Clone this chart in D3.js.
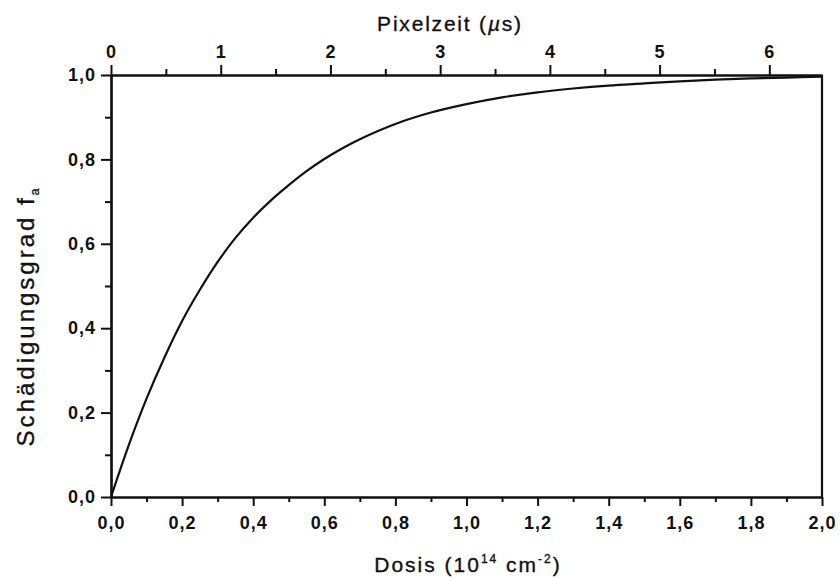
<!DOCTYPE html>
<html>
<head>
<meta charset="utf-8">
<script src="https://cdn.jsdelivr.net/npm/d3@7"></script>
<style>
body { margin: 0; background: #fff; }
svg { display: block; }
.tick text { font-family: "Liberation Sans", Arial, sans-serif; font-weight: bold; font-size: 18px; letter-spacing: 1px; fill: #111; }
.title { font-family: "Liberation Sans", Arial, sans-serif; fill: #111; stroke: #111; stroke-width: 0.35px; }
</style>
</head>
<body>
<svg id="chart"></svg>
<script>
// dose in 10^14 cm^-2
var dose = [0.00, 0.05, 0.10, 0.15, 0.20, 0.25, 0.30, 0.35, 0.40, 0.45, 0.50,
            0.55, 0.60, 0.65, 0.70, 0.80, 0.90, 1.00, 1.10, 1.20, 1.30, 1.40, 1.50,
            1.60, 1.70, 1.80, 1.90, 2.00]
// damage degree f_a
var fa = [0.000, 0.123, 0.233, 0.330, 0.417, 0.491, 0.557, 0.614, 0.662, 0.703, 0.739,
          0.772, 0.801, 0.826, 0.848, 0.884, 0.911, 0.931, 0.947, 0.959, 0.968, 0.975, 0.980,
          0.985, 0.989, 0.992, 0.994, 0.996]

var doseTicks = [0, 0.2, 0.4, 0.6, 0.8, 1.0, 1.2, 1.4, 1.6, 1.8, 2.0]
var doseMinor = [0.1, 0.3, 0.5, 0.7, 0.9, 1.1, 1.3, 1.5, 1.7, 1.9]
var faTicks = [0, 0.2, 0.4, 0.6, 0.8, 1.0]
var faMinor = [0.1, 0.3, 0.5, 0.7, 0.9]
var timeTicks = [0, 1, 2, 3, 4, 5, 6]
var timeMinor = [0.5, 1.5, 2.5, 3.5, 4.5, 5.5]
var timeMax = 6.48   // pixel time at dose 2.0

var width = 840
var height = 581
var margins = {top: 75, bottom: 84, left: 111, right: 18}

var svg = d3.select("#chart")
    .attr("width", width)
    .attr("height", height)

var xScale = d3.scaleLinear()
    .domain([0, 2])
    .range([margins.left, width - margins.right])

var tScale = d3.scaleLinear()
    .domain([0, timeMax])
    .range([margins.left, width - margins.right])

var yScale = d3.scaleLinear()
    .domain([0, 1])
    .range([height - margins.bottom, margins.top])

var comma = function(d) { return d3.format(".1f")(d).replace(".", ",") }

var styleAxis = function(g)
{
    g.select(".domain").attr("stroke", "#111").attr("stroke-width", 2.2)
    g.selectAll(".tick line").attr("stroke", "#111").attr("stroke-width", 2)
}

var bottom = height - margins.bottom

// bottom axis
svg.append("g")
    .attr("transform", "translate(0," + bottom + ")")
    .call(d3.axisBottom(xScale).tickValues(doseMinor).tickSize(5).tickSizeOuter(0).tickFormat(""))
    .call(styleAxis)
svg.append("g")
    .attr("transform", "translate(0," + bottom + ")")
    .call(d3.axisBottom(xScale).tickValues(doseTicks).tickSize(9).tickSizeOuter(0).tickPadding(6).tickFormat(comma))
    .call(styleAxis)
    .call(function(g) { g.selectAll(".tick text").attr("dy", "0.95em") })

// left axis
svg.append("g")
    .attr("transform", "translate(" + margins.left + ",0)")
    .call(d3.axisLeft(yScale).tickValues(faMinor).tickSize(6).tickSizeOuter(0).tickFormat(""))
    .call(styleAxis)
svg.append("g")
    .attr("transform", "translate(" + margins.left + ",0)")
    .call(d3.axisLeft(yScale).tickValues(faTicks).tickSize(10).tickSizeOuter(0).tickPadding(5).tickFormat(comma))
    .call(styleAxis)

// top axis
svg.append("g")
    .attr("transform", "translate(0," + margins.top + ")")
    .call(d3.axisTop(tScale).tickValues(timeMinor).tickSize(6).tickSizeOuter(0).tickFormat(""))
    .call(styleAxis)
svg.append("g")
    .attr("transform", "translate(0," + margins.top + ")")
    .call(d3.axisTop(tScale).tickValues(timeTicks).tickSize(10).tickSizeOuter(0).tickPadding(7).tickFormat(d3.format("d")))
    .call(styleAxis)

// right border
svg.append("line")
    .attr("x1", xScale(2)).attr("x2", xScale(2))
    .attr("y1", yScale(0)).attr("y2", yScale(1))
    .attr("stroke", "#111")
    .attr("stroke-width", 2.2)

// curve
var points = dose.map(function(d, i) { return [d, fa[i]] })
var line = d3.line()
    .x(function(d) { return xScale(d[0]) })
    .y(function(d) { return yScale(d[1]) })
    .curve(d3.curveCatmullRom)

svg.append("path")
    .datum(points)
    .attr("d", line)
    .attr("fill", "none")
    .attr("stroke", "#111")
    .attr("stroke-width", 2.2)

// titles
var xt = svg.append("text")
    .classed("title", true)
    .attr("x", 468)
    .attr("y", 572)
    .attr("text-anchor", "middle")
    .style("font-size", "21px")
    .style("letter-spacing", "2px")
xt.append("tspan").text("Dosis (10")
xt.append("tspan").attr("dy", -9).style("font-size", "12px").text("14")
xt.append("tspan").attr("dy", 9).text(" cm")
xt.append("tspan").attr("dy", -9).style("font-size", "12px").text("-2")
xt.append("tspan").attr("dy", 9).text(")")

var tt = svg.append("text")
    .classed("title", true)
    .attr("x", 450)
    .attr("y", 31)
    .attr("text-anchor", "middle")
    .style("font-size", "21px")
    .style("letter-spacing", "1.8px")
tt.append("tspan").text("Pixelzeit (")
tt.append("tspan").style("font-style", "italic").text("\u00b5")
tt.append("tspan").text("s)")

var yt = svg.append("text")
    .classed("title", true)
    .attr("transform", "translate(34,316) rotate(-90)")
    .attr("text-anchor", "middle")
    .style("font-size", "24px")
    .style("letter-spacing", "3px")
yt.append("tspan").text("Schädigungsgrad f")
yt.append("tspan").attr("dy", 5).style("font-size", "12px").text("a")
</script>
</body>
</html>
